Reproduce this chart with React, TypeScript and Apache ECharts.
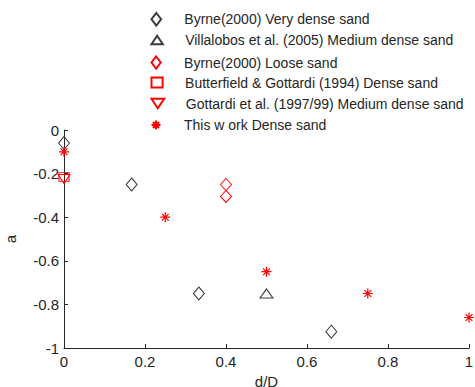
import React, { useEffect, useRef } from "react";
import * as echarts from "echarts";

// d/D versus a, one array of [d/D, a] pairs per data source
const byrneVeryDense: [number, number][] = [
  [0, -0.06],
  [0.167, -0.25],
  [0.333, -0.75],
  [0.66, -0.925],
];
const villalobosMedium: [number, number][] = [[0.5, -0.75]];
const byrneLoose: [number, number][] = [
  [0.4, -0.25],
  [0.4, -0.305],
];
const butterfieldDense: [number, number][] = [[0, -0.215]];
const gottardiMedium: [number, number][] = [[0, -0.225]];
const thisWorkDense: [number, number][] = [
  [0, -0.1],
  [0.25, -0.4],
  [0.5, -0.65],
  [0.75, -0.75],
  [1, -0.86],
];

const seriesNames = [
  "Byrne(2000) Very dense sand",
  "Villalobos et al. (2005) Medium dense sand",
  "Byrne(2000) Loose sand",
  "Butterfield & Gottardi (1994) Dense sand",
  "Gottardi et al. (1997/99) Medium dense sand",
  "This w ork Dense sand",
];

const xTicks = [0, 0.2, 0.4, 0.6, 0.8, 1];

const DIAMOND = "path://M5,0L10,6.5L5,13L0,6.5Z";
const TRIANGLE = "path://M6,0L12,9L0,9Z";
const SQUARE = "path://M0,0L10,0L10,9L0,9Z";
const TRIANGLE_DOWN = "path://M0,0L12,0L6,9Z";
const STAR = "path://M5,0L5,10M0,5L10,5M1.6,1.6L8.4,8.4M1.6,8.4L8.4,1.6";

const DARK = "#3a3a3a";
const RED = "#ff0000";
const FONT = "'Liberation Sans', Arial, sans-serif";
const TEXT = "#262626";

// legend rows: icon, icon height, row centre
const legendIcons = [DIAMOND, TRIANGLE, DIAMOND, SQUARE, TRIANGLE_DOWN, STAR];
const legendIconHeights = [12.5, 8.5, 12, 10, 9.5, 9];
const legendRowCentres = [18.5, 40, 62, 82.5, 103.5, 125];

export default function App() {
  const ref = useRef<HTMLDivElement>(null);

  useEffect(() => {
    if (!ref.current) return;
    const chart = echarts.init(ref.current, undefined, { renderer: "svg" });

    const mk = (
      name: string,
      data: [number, number][],
      symbol: string,
      size: number[],
      color: string,
      z: number,
      width = 1
    ) => ({
      name,
      type: "scatter",
      data,
      symbol,
      symbolSize: size,
      clip: false,
      z,
      itemStyle: {
        color: "none",
        borderColor: color,
        borderWidth: width,
        opacity: 1,
      },
      emphasis: { disabled: true },
    });

    const legends = seriesNames.map((name, i) => ({
      orient: "vertical",
      left: 149,
      top: legendRowCentres[i] - 8,
      height: 16,
      padding: 0,
      itemWidth: 46,
      itemHeight: legendIconHeights[i],
      selectedMode: false,
      symbolKeepAspect: true,
      textStyle: { fontSize: 14, color: TEXT, fontFamily: FONT, lineHeight: 16 },
      data: [{ name, icon: legendIcons[i] }],
    }));

    chart.setOption({
      animation: false,
      backgroundColor: "#ffffff",
      textStyle: { fontFamily: FONT },
      grid: {
        left: 64,
        top: 130,
        right: 6,
        bottom: 39,
        containLabel: false,
        outerBoundsMode: "none",
      },
      legend: legends,
      xAxis: {
        type: "value",
        min: 0,
        max: 1,
        interval: 0.2,
        name: "d/D",
        nameLocation: "middle",
        nameGap: 19,
        nameTextStyle: { fontSize: 15, color: TEXT, fontFamily: FONT },
        axisLine: { show: true, onZero: false, lineStyle: { color: TEXT, width: 1 } },
        axisTick: { show: true, inside: true, length: 4, lineStyle: { color: TEXT } },
        axisLabel: {
          fontSize: 15,
          color: TEXT,
          margin: 6,
          formatter: (v: number) => (xTicks.includes(+v.toFixed(1)) ? String(+v.toFixed(1)) : ""),
        },
        splitLine: { show: false },
      },
      yAxis: {
        type: "value",
        min: -1,
        max: 0,
        interval: 0.2,
        name: "a",
        nameLocation: "middle",
        nameGap: 46,
        nameRotate: 90,
        nameTextStyle: { fontSize: 15, color: TEXT, fontFamily: FONT },
        axisLine: { show: true, onZero: false, lineStyle: { color: TEXT, width: 1 } },
        axisTick: { show: true, inside: true, length: 4, lineStyle: { color: TEXT } },
        axisLabel: {
          fontSize: 15,
          color: TEXT,
          margin: 5,
          formatter: (v: number) => String(+v.toFixed(1)),
        },
        splitLine: { show: false },
      },
      series: [
        mk(seriesNames[0], byrneVeryDense, DIAMOND, [11, 13], DARK, 3),
        mk(seriesNames[1], villalobosMedium, TRIANGLE, [13, 9], DARK, 3),
        mk(seriesNames[2], byrneLoose, DIAMOND, [11, 12], RED, 3),
        mk(seriesNames[3], butterfieldDense, SQUARE, [10, 9], RED, 3),
        mk(seriesNames[4], gottardiMedium, TRIANGLE_DOWN, [12, 9], RED, 3),
        mk(seriesNames[5], thisWorkDense, STAR, [10, 10], RED, 4, 1.2),
      ],
    });

    return () => chart.dispose();
  }, []);

  return (
    <div
      ref={ref}
      style={{ position: "fixed", left: 0, top: 0, width: 475, height: 387 }}
    />
  );
}
